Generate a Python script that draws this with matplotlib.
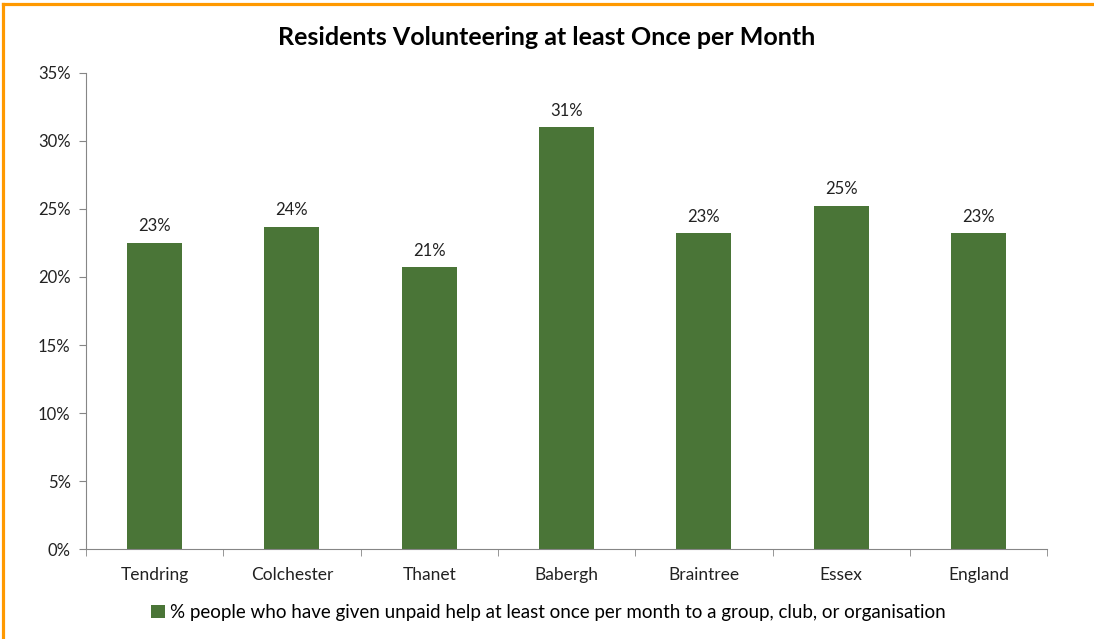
import numpy as np
import matplotlib.pyplot as plt
from matplotlib.lines import Line2D

plt.rcParams['font.family'] = ['Lato', 'DejaVu Sans']

areas = ['Tendring', 'Colchester', 'Thanet', 'Babergh', 'Braintree', 'Essex', 'England']
volunteering = [22.5, 23.7, 20.7, 31.0, 23.2, 25.2, 23.2]
series_name = '% people who have given unpaid help at least once per month to a group, club, or organisation'

green = '#4a7537'
grey = '#868686'

fig = plt.figure(figsize=(10.94, 6.39), dpi=100)
ax = fig.add_axes([0.0786, 0.1408, 0.8786, 0.745])

x = np.arange(len(areas))
bars = ax.bar(x, volunteering, width=0.4, color=green, label=series_name, zorder=2)

for xi, v in zip(x, volunteering):
    ax.text(xi, v + 0.65, f'{int(v + 0.5)}%', ha='center', va='bottom', fontsize=12, color='#222222')

ax.set_ylim(0, 35)
ax.set_xlim(-0.5, len(areas) - 0.5)
ax.set_yticks(np.arange(0, 36, 5))
ax.set_yticklabels([f'{t}%' for t in range(0, 36, 5)])
ax.set_xticks(x)
ax.set_xticklabels(areas)
ax.set_xticks(np.arange(-0.5, len(areas)), minor=True)
ax.tick_params(axis='x', which='major', length=0, pad=13, labelsize=12.5, colors='#222222')
ax.tick_params(axis='x', which='minor', length=5, color=grey, direction='out')
ax.tick_params(axis='y', length=5, color=grey, direction='out', labelsize=12, pad=6,
               labelcolor='#222222')

for s in ['top', 'right']:
    ax.spines[s].set_visible(False)
for s in ['left', 'bottom']:
    ax.spines[s].set_color(grey)

ax.set_title('Residents Volunteering at least Once per Month', fontsize=18,
             fontweight='bold', pad=20, x=0.479)

ax.legend(loc='upper center', bbox_to_anchor=(0.481, -0.08), frameon=False,
          fontsize=13.5, handlelength=0.75, handleheight=0.75, handletextpad=0.3)

# orange frame edges (top and left)
orange = '#ff9900'
fig.add_artist(Line2D([0.003, 1], [0.994, 0.994], transform=fig.transFigure, color=orange, lw=2.3))
fig.add_artist(Line2D([0.003, 0.003], [0, 0.994], transform=fig.transFigure, color=orange, lw=2.3))

fig.savefig('out.png', dpi=100)
